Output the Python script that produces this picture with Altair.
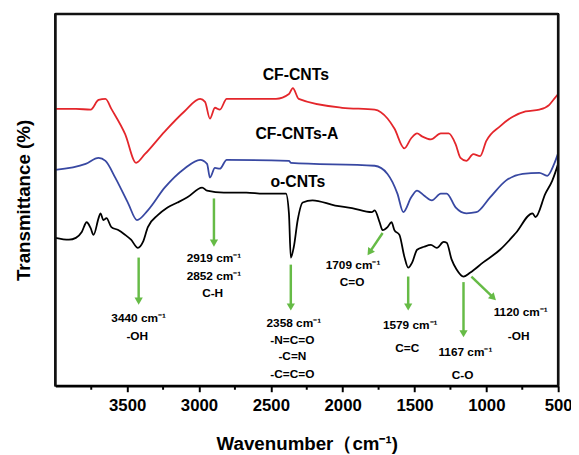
import altair as alt
import pandas as pd

# ---- spectra (wavenumber cm-1, transmittance a.u.) ----
red_wn = [4000, 3857, 3754, 3699, 3651, 3610, 3514, 3438, 3377, 3239, 3102, 2992, 2958, 2924,
          2889, 2855, 2807, 2464, 2374, 2347, 2306, 2004, 1777, 1688, 1640, 1571, 1523, 1482,
          1448, 1386, 1317, 1262, 1214, 1180, 1139, 1091, 1043, 1001, 905, 816, 727, 631, 562, 528, 500]
red_t = [74.5, 74.5, 74.3, 76.9, 77.2, 74.5, 67.7, 60.0, 62.3, 68.4, 73.8, 77.2, 76.4, 71.9,
         74.8, 74.3, 77.2, 77.2, 78.5, 80.1, 77.2, 74.8, 74.3, 71.9, 69.2, 63.9, 66.6, 67.9,
         67.1, 66.3, 67.9, 67.9, 65.0, 61.3, 60.5, 62.3, 61.8, 65.8, 69.8, 72.4, 73.8, 74.3, 75.6, 77.2, 78.5]

blue_wn = [4000, 3789, 3699, 3651, 3583, 3493, 3432, 3356, 3239, 3102, 2992, 2944, 2924, 2889,
           2855, 2807, 2374, 2361, 1777, 1688, 1619, 1578, 1523, 1482, 1434, 1379, 1317, 1276,
           1214, 1139, 1070, 974, 864, 747, 631, 576, 528, 500]
blue_t = [58.1, 59.7, 61.3, 60.5, 56.0, 49.1, 44.6, 47.2, 53.3, 58.4, 60.8, 59.7, 56.0, 58.6,
          58.4, 60.8, 60.5, 60.0, 59.2, 57.0, 51.7, 46.7, 50.7, 52.5, 51.2, 49.9, 51.7, 51.7,
          48.0, 46.4, 46.7, 50.7, 55.2, 57.0, 57.3, 56.5, 59.7, 62.6]

black_wn = [4000, 3905, 3857, 3816, 3782, 3754, 3734, 3699, 3686, 3665, 3644, 3610, 3562, 3514,
            3473, 3425, 3390, 3356, 3287, 3219, 3150, 3081, 2978, 2944, 2827, 2670, 2553, 2395,
            2374, 2361, 2340, 2313, 2278, 2210, 2052, 1935, 1798, 1777, 1743, 1722, 1688, 1660,
            1640, 1605, 1571, 1544, 1516, 1482, 1434, 1386, 1345, 1297, 1276, 1242, 1207, 1159,
            1111, 1022, 905, 795, 679, 658, 589, 541, 500]
black_t = [39.8, 39.3, 39.8, 41.4, 44.0, 42.4, 40.6, 45.1, 46.4, 44.6, 45.1, 42.7, 41.9, 40.6,
           39.3, 37.1, 38.7, 42.7, 45.9, 48.0, 49.3, 50.7, 53.3, 52.5, 52.0, 52.0, 51.7, 51.7,
           46.4, 34.5, 37.4, 44.6, 49.3, 49.9, 48.5, 47.8, 46.7, 47.2, 44.0, 41.9, 42.7, 44.0,
           41.9, 40.6, 34.8, 31.8, 33.2, 36.6, 37.4, 37.9, 37.1, 38.7, 38.5, 34.0, 31.3, 29.4,
           30.5, 33.2, 36.6, 41.1, 46.4, 45.4, 51.7, 55.2, 59.7]

series_names = ["CF-CNTs", "CF-CNTs-A", "o-CNTs"]
series_colors = ["#e4262b", "#3848a2", "#000000"]

# ---- series labels ----
lab_text = ["CF-CNTs", "CF-CNTs-A", "o-CNTs"]
lab_wn = [2326, 2319, 2312]
lab_t = [83.6, 67.7, 54.7]

# ---- peak annotation arrows (tail -> head) ----
arr_x1 = [3420, 2896, 2361, 1722, 1544, 1159, 1104]
arr_y1 = [34.5, 50.4, 32.6, 41.1, 29.4, 27.9, 29.4]
arr_x2 = [3420, 2896, 2361, 1813, 1544, 1159, 951]
arr_y2 = [22.8, 38.4, 21.2, 35.9, 21.2, 14.0, 23.7]
arr_rot = [180, 180, 180, 214, 180, 180, 134]

# ---- annotation texts ----
ann_text = ["3440 cm⁻¹", "-OH",
            "2919 cm⁻¹", "2852 cm⁻¹", "C-H",
            "2358 cm⁻¹", "-N=C=O", "-C=N", "-C=C=O",
            "1709 cm⁻¹", "C=O",
            "1579 cm⁻¹", "C=C",
            "1167 cm⁻¹", "C-O",
            "1120 cm⁻¹", "-OH"]
ann_wn = [3420, 3430,
          2896, 2896, 2905,
          2340, 2350, 2350, 2350,
          1928, 1935,
          1530, 1551,
          1146, 1166,
          761, 775]
ann_t = [18.3, 13.5,
         34.5, 29.4, 24.9,
         17.0, 12.2, 8.0, 3.2,
         32.4, 27.9,
         16.4, 10.1,
         9.0, 2.9,
         19.9, 13.5]

major_ticks = [3500, 3000, 2500, 2000, 1500, 1000, 500]
minor_ticks = [3750, 3250, 2750, 2250, 1750, 1250, 750]

# frame sides of the plot box: top, left, right
frame_x1 = [4000, 4000, 500]
frame_x2 = [500, 4000, 500]
frame_y1 = [100, 0, 0]
frame_y2 = [100, 100, 100]

FONT = "Liberation Sans"
GREEN = "#66bb46"

rows = []
for name, xs, ys in [("CF-CNTs", red_wn, red_t), ("CF-CNTs-A", blue_wn, blue_t), ("o-CNTs", black_wn, black_t)]:
    for xv, yv in zip(xs, ys):
        rows.append({"series": name, "wn": xv, "t": yv})
spec = pd.DataFrame(rows)

xscale = alt.Scale(domain=[500, 4000], reverse=True, nice=False, zero=False)
yscale = alt.Scale(domain=[0, 100], nice=False, zero=False)

xaxis = alt.Axis(values=major_ticks, format="d", title="Wavenumber（cm⁻¹)",
                 grid=False, tickSize=6, tickWidth=2, tickColor="black",
                 domainColor="black", domainWidth=2.5, labelFont=FONT, labelFontSize=17,
                 labelFontWeight="bold", labelColor="black", labelPadding=6,
                 titleFont=FONT, titleFontSize=19, titleFontWeight="bold",
                 titleColor="black", titlePadding=22, labelFlush=False)
yaxis = alt.Axis(title="Transmittance (%)", labels=False, ticks=False, domain=False,
                 grid=False, titleFont=FONT, titleFontSize=19, titleFontWeight="bold",
                 titleColor="black", titlePadding=22)

lines = alt.Chart(spec).mark_line(strokeWidth=1.8, interpolate="monotone").encode(
    x=alt.X("wn:Q", scale=xscale, axis=xaxis),
    y=alt.Y("t:Q", scale=yscale, axis=yaxis),
    color=alt.Color("series:N", scale=alt.Scale(domain=series_names, range=series_colors), legend=None),
)

labels = alt.Chart(pd.DataFrame({"text": lab_text, "wn": lab_wn, "t": lab_t})).mark_text(
    font=FONT, fontSize=16, fontWeight="bold", color="black", align="center", baseline="middle"
).encode(x=alt.X("wn:Q", scale=xscale), y=alt.Y("t:Q", scale=yscale), text="text:N")

arr_df = pd.DataFrame({"x1": arr_x1, "y1": arr_y1, "x2": arr_x2, "y2": arr_y2, "rot": arr_rot})
shafts = alt.Chart(arr_df).mark_rule(color=GREEN, strokeWidth=2.5).encode(
    x=alt.X("x1:Q", scale=xscale), y=alt.Y("y1:Q", scale=yscale), x2="x2:Q", y2="y2:Q")
heads = alt.Chart(arr_df).mark_point(shape="triangle-up", filled=True, color=GREEN, opacity=1, size=70).encode(
    x=alt.X("x2:Q", scale=xscale), y=alt.Y("y2:Q", scale=yscale), angle=alt.Angle("rot:Q", scale=None))

ann = alt.Chart(pd.DataFrame({"text": ann_text, "wn": ann_wn, "t": ann_t})).mark_text(
    font=FONT, fontSize=12, fontWeight="bold", color="black", align="center", baseline="middle"
).encode(x=alt.X("wn:Q", scale=xscale), y=alt.Y("t:Q", scale=yscale), text="text:N")

minor = alt.Chart(pd.DataFrame({"wn": minor_ticks})).mark_rule(color="black", strokeWidth=2).encode(
    x=alt.X("wn:Q", scale=xscale), y=alt.value(377), y2=alt.value(381))

frame = alt.Chart(pd.DataFrame({"x1": frame_x1, "x2": frame_x2, "y1": frame_y1, "y2": frame_y2})).mark_rule(
    color="#111111", strokeWidth=2.6
).encode(x=alt.X("x1:Q", scale=xscale), x2="x2:Q", y=alt.Y("y1:Q", scale=yscale), y2="y2:Q")

chart = alt.layer(lines, labels, shafts, heads, ann, minor, frame).properties(
    width=510, height=377,
    autosize=alt.AutoSizeParams(type="none"),
    padding={"left": 48, "top": 3, "right": 13, "bottom": 67},
).configure(background="white", view=alt.ViewConfig(stroke="black", strokeWidth=2))

chart.save("out.html", embed_options={"renderer": "svg", "actions": False})
